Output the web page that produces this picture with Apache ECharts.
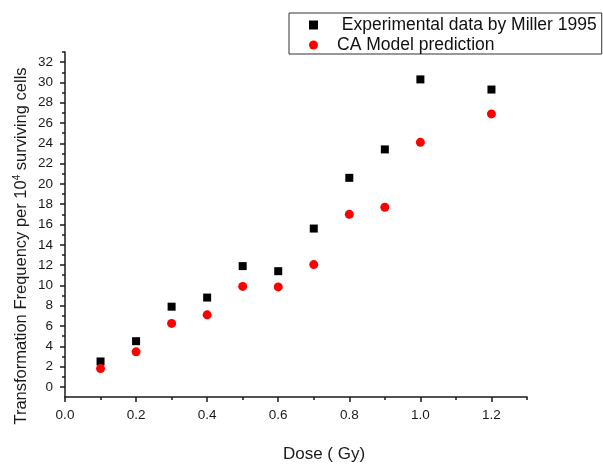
<!DOCTYPE html>
<html><head><meta charset="utf-8">
<script src="https://cdn.jsdelivr.net/npm/echarts@6/dist/echarts.min.js"></script>
<style>html,body{margin:0;padding:0;background:#fff}#c{width:603px;height:464px}</style>
</head><body><div id="c"></div>
<script>
const doses = [0.1, 0.2, 0.3, 0.4, 0.5, 0.6, 0.7, 0.8, 0.9, 1.0, 1.2];
const experimental = [2.5, 4.5, 7.9, 8.8, 11.9, 11.4, 15.6, 20.6, 23.4, 30.3, 29.3];
const model = [1.8, 3.45, 6.25, 7.1, 9.9, 9.85, 12.05, 17.0, 17.7, 24.1, 26.9];
const xMajorTicks = [0.0, 0.2, 0.4, 0.6, 0.8, 1.0, 1.2];
const xMinorTicks = [0.1, 0.3, 0.5, 0.7, 0.9, 1.1, 1.3];
const yMajorTicks = [0, 2, 4, 6, 8, 10, 12, 14, 16, 18, 20, 22, 24, 26, 28, 30, 32];
const yMinorTicks = [1, 3, 5, 7, 9, 11, 13, 15, 17, 19, 21, 23, 25, 27, 29, 31, 33];
const expName = 'Experimental data by Miller 1995';
const modelName = 'CA Model prediction';
const xTitle = 'Dose ( Gy)';
const yTitle = 'Transformation Frequency per 10{sup|4} surviving cells';

const FONT = '"Liberation Sans", Arial, Helvetica, sans-serif';
const INK = '#1a1a1a';
const chart = echarts.init(document.getElementById('c'), null, {renderer: 'canvas'});

const lineStyle = {color: INK, width: 1.5};
function majorAxis(min, max, ticks, fmt, labelMargin) {
  return {
    type: 'value', min: min, max: max,
    axisLine: {show: true, onZero: false, lineStyle: lineStyle},
    axisTick: {show: true, inside: false, length: 5, customValues: ticks, lineStyle: lineStyle},
    axisLabel: {show: true, customValues: ticks, formatter: fmt, margin: labelMargin,
      fontSize: 13.5, color: INK, fontFamily: FONT},
    splitLine: {show: false}, minorTick: {show: false}
  };
}
function minorAxis(min, max, ticks) {
  return {
    type: 'value', min: min, max: max,
    axisLine: {show: false, onZero: false},
    axisTick: {show: true, inside: false, length: 3, customValues: ticks, lineStyle: lineStyle},
    axisLabel: {show: false}, splitLine: {show: false}
  };
}

const option = {
  animation: false,
  backgroundColor: '#fff',
  grid: {left: 65, right: 76, top: 52, bottom: 67, containLabel: false},
  xAxis: [
    Object.assign(majorAxis(0, 1.3, xMajorTicks, v => v.toFixed(1), 11), {position: 'bottom'}),
    Object.assign(minorAxis(0, 1.3, xMinorTicks), {position: 'bottom'})
  ],
  yAxis: [
    Object.assign(majorAxis(-1, 33, yMajorTicks, v => String(v), 12), {position: 'left'}),
    Object.assign(minorAxis(-1, 33, yMinorTicks), {position: 'left'})
  ],
  legend: {
    show: true, orient: 'vertical', left: 289, top: 13,
    padding: [3, 5, 0, 20], itemGap: 2, itemWidth: 9, itemHeight: 9,
    borderColor: '#333', borderWidth: 1, backgroundColor: '#fff', borderRadius: 0,
    data: [{name: expName, icon: 'rect'}, {name: modelName, icon: 'circle'}],
    formatter: n => n === expName ? ' ' + n : n,
    itemStyle: {opacity: 1},
    textStyle: {fontSize: 17.5, color: '#111', fontFamily: FONT, lineHeight: 17, padding: [0, 0, 0, 14]}
  },
  graphic: [
    {type: 'text', x: 324, y: 454, silent: true,
     style: {text: xTitle, font: '17px ' + FONT, fill: INK, align: 'center', verticalAlign: 'middle'}},
    {type: 'text', x: 21, y: 246, rotation: Math.PI / 2, silent: true,
     style: {text: yTitle, font: '16.5px ' + FONT, fill: INK, align: 'center', verticalAlign: 'middle',
       rich: {sup: {fontSize: 10, fontFamily: FONT, lineHeight: 10, verticalAlign: 'top', fill: INK}}}}
  ],
  series: [
    {name: expName, type: 'scatter', xAxisIndex: 0, yAxisIndex: 0, symbol: 'rect', symbolSize: 8,
     itemStyle: {color: '#000', opacity: 1}, data: doses.map((d, i) => [d, experimental[i]])},
    {name: modelName, type: 'scatter', xAxisIndex: 0, yAxisIndex: 0, symbol: 'circle', symbolSize: 9,
     itemStyle: {color: '#ff0000', opacity: 1}, data: doses.map((d, i) => [d, model[i]])}
  ]
};
chart.setOption(option);
</script>
</body></html>
